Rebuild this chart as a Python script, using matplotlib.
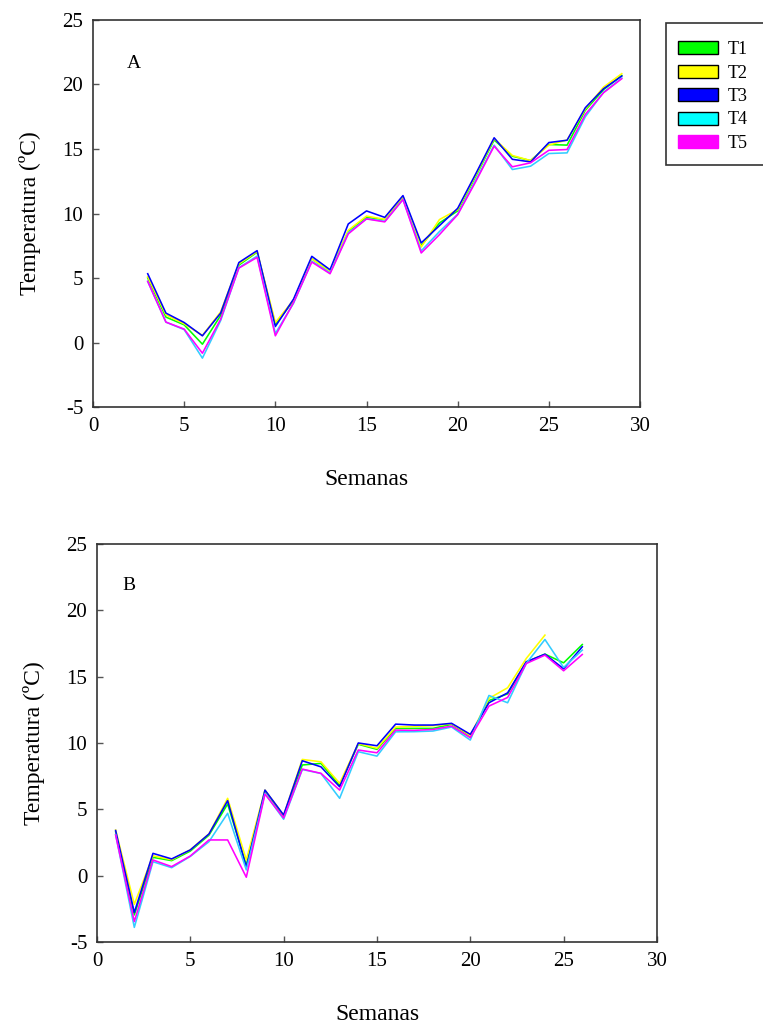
import numpy as np
import matplotlib.pyplot as plt
from matplotlib.patches import Patch, Rectangle

plt.rcParams['font.family'] = ['Liberation Serif', 'DejaVu Serif']
plt.rcParams['axes.unicode_minus'] = False

# panel A: weeks 3-29
semA = list(range(3, 30))
a_t1 = [5.0, 1.97, 1.37, -0.13, 2.1, 6.0, 7.0, 1.4, 3.25, 6.5, 5.5, 8.62, 9.7, 9.53, 11.25,
        7.5, 9.27, 10.2, 12.9, 15.7, 14.44, 14.1, 15.35, 15.3, 18.0, 19.6, 20.7]
a_t2 = [5.1, 2.15, 1.45, 0.55, 2.37, 6.1, 7.05, 1.55, 3.3, 6.5, 5.5, 8.7, 9.8, 9.55, 11.3,
        7.4, 9.53, 10.3, 13.0, 15.8, 14.5, 14.1, 15.3, 15.7, 18.1, 19.8, 20.84]
a_t3 = [5.33, 2.28, 1.55, 0.52, 2.28, 6.2, 7.12, 1.24, 3.37, 6.68, 5.64, 9.19, 10.2, 9.7, 11.39,
        7.72, 9.06, 10.4, 13.1, 15.87, 14.2, 14.0, 15.5, 15.68, 18.2, 19.67, 20.65]
a_t4 = [4.74, 1.58, 1.0, -1.21, 1.7, 5.8, 6.7, 0.7, 3.05, 6.3, 5.4, 8.5, 9.6, 9.4, 11.1,
        7.1, 8.6, 9.95, 12.6, 15.3, 13.41, 13.67, 14.65, 14.7, 17.5, 19.4, 20.5]
a_t5 = [4.74, 1.58, 1.04, -0.83, 1.81, 5.77, 6.6, 0.52, 3.1, 6.24, 5.33, 8.42, 9.58, 9.35, 11.08,
        6.94, 8.36, 9.91, 12.5, 15.22, 13.62, 13.93, 14.9, 14.96, 17.68, 19.36, 20.45]

# panel B: weeks 1-26 (T2 stops at week 24)
semB = list(range(1, 27))
b_t1 = [3.3, -2.96, 1.38, 1.13, 1.85, 3.05, 5.4, 0.8, 6.4, 4.5, 8.34, 8.46, 6.8, 9.9, 9.52,
        11.1, 11.1, 11.1, 11.4, 10.5, 13.2, 13.7, 16.1, 16.7, 16.04, 17.42]
b_t2 = [3.44, -2.16, 1.5, 1.2, 1.95, 3.15, 5.83, 1.18, 6.45, 4.55, 8.76, 8.58, 6.96, 9.95, 9.6,
        11.2, 11.25, 11.3, 11.45, 10.55, 13.36, 14.16, 16.37, 18.13]
b_t3 = [3.4, -2.78, 1.68, 1.26, 1.94, 3.14, 5.65, 0.63, 6.45, 4.57, 8.66, 8.2, 6.7, 10.0, 9.79,
        11.42, 11.35, 11.35, 11.48, 10.65, 13.03, 13.78, 16.12, 16.69, 15.59, 17.25]
b_t4 = [3.1, -3.9, 1.05, 0.6, 1.45, 2.56, 4.7, 0.43, 6.2, 4.25, 8.0, 7.7, 5.83, 9.34, 9.01,
        10.84, 10.85, 10.9, 11.2, 10.22, 13.58, 13.03, 16.0, 17.8, 15.69, 17.0]
b_t5 = [3.06, -3.46, 1.18, 0.68, 1.48, 2.69, 2.69, -0.12, 6.15, 4.35, 8.03, 7.71, 6.45, 9.47, 9.26,
        10.97, 10.95, 11.02, 11.27, 10.4, 12.78, 13.43, 15.99, 16.62, 15.44, 16.67]

nombres = ['T1', 'T2', 'T3', 'T4', 'T5']
colores = ['#00ff00', '#ffff00', '#0000ff', '#33ccff', '#ff00ff']
col_leyenda = ['#00ff00', '#ffff00', '#0000ff', '#00ffff', '#ff00ff']

W, H = 763, 1025
fig = plt.figure(figsize=(W / 100, H / 100), dpi=100)
axA = fig.add_axes([0.1219, 0.6029, 0.7169, 0.3776])
axB = fig.add_axes([0.1271, 0.0810, 0.7339, 0.3883])


def panel(ax, series, letra, lx, ly):
    for (xs, ys), c in zip(series, colores):
        ax.plot(xs, ys, color=c, lw=1.15)
    ax.set_xlim(0, 30)
    ax.set_ylim(-5, 25)
    ax.set_xticks(np.arange(0, 31, 5))
    ax.set_yticks(np.arange(-5, 26, 5))
    ax.tick_params(direction='in', length=4, width=1, color='#555555', labelsize=15, pad=7)
    for s in ax.spines.values():
        s.set_color('#333333')
        s.set_linewidth(1.2)
    ax.set_xlabel('Semanas', fontsize=17, labelpad=24)
    ax.set_ylabel('Temperatura (ºC)', fontsize=17, labelpad=15.5)
    ax.text(lx, ly, letra, transform=ax.transAxes, fontsize=14)


panel(axA, [(semA, a_t1), (semA, a_t2), (semA, a_t3), (semA, a_t4), (semA, a_t5)],
      'A', 0.062, 0.875)
panel(axB, [(semB, b_t1), (semB[:len(b_t2)], b_t2), (semB, b_t3), (semB, b_t4), (semB, b_t5)],
      'B', 0.045, 0.885)

# legend box, open on the right edge
fig.patches.append(Rectangle((665.7 / W, 1 - 165 / H), (W + 10 - 665.7) / W, (165 - 22.7) / H,
                             transform=fig.transFigure, facecolor='white',
                             edgecolor='#333333', lw=1.2, clip_on=False))
handles = [Patch(facecolor=c, edgecolor='black' if n != 'T5' else c, lw=1)
           for n, c in zip(nombres, col_leyenda)]
fig.legend(handles, nombres, loc='upper left', bbox_to_anchor=(678 / W, 1 - 41 / H),
           fontsize=13, frameon=False, handlelength=2.2, handleheight=0.72,
           labelspacing=0.36, borderpad=0, handletextpad=0.55, borderaxespad=0)

fig.savefig('out.png', dpi=100)
